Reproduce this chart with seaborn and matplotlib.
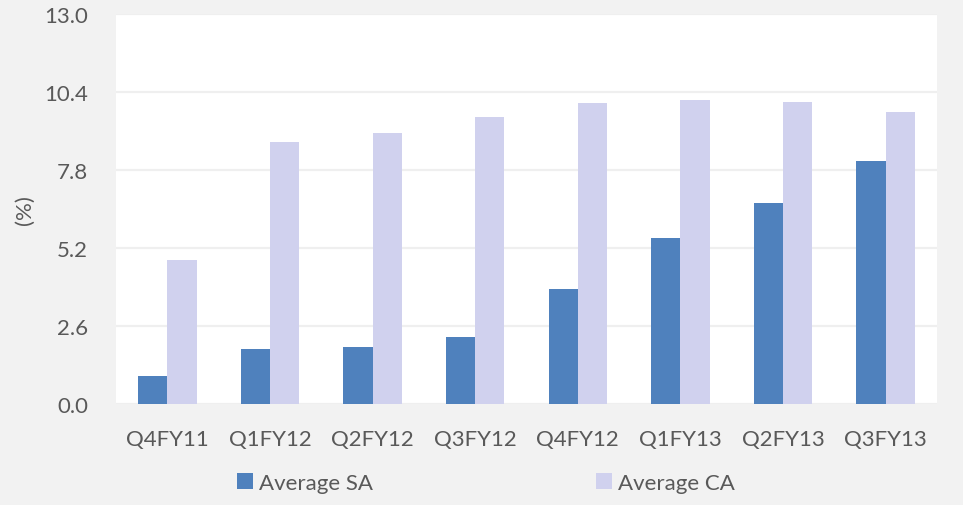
import matplotlib
matplotlib.use("Agg")
import matplotlib.pyplot as plt
import seaborn as sns
import pandas as pd

quarters = ["Q4FY11", "Q1FY12", "Q2FY12", "Q3FY12", "Q4FY12", "Q1FY13", "Q2FY13", "Q3FY13"]
avg_sa = [0.94, 1.83, 1.89, 2.22, 3.82, 5.54, 6.69, 8.09]
avg_ca = [4.81, 8.74, 9.03, 9.56, 10.02, 10.14, 10.08, 9.74]
y_ticks = [0.0, 2.6, 5.2, 7.8, 10.4, 13.0]
series_names = ["Average SA", "Average CA"]
colors = ["#4f81bd", "#d0d1ee"]

df = pd.DataFrame({
    "quarter": quarters * 2,
    "value": avg_sa + avg_ca,
    "series": [series_names[0]] * len(quarters) + [series_names[1]] * len(quarters),
})

sns.set_theme(style="white")
plt.rcParams["font.family"] = ["Lato", "DejaVu Sans"]
text_color = "#595959"
fs = 16

fig = plt.figure(figsize=(9.63, 5.06), dpi=100, facecolor="#f2f2f2")
ax = fig.add_axes([0.1205, 0.1996, 0.8525, 0.7708])
ax.set_facecolor("white")

sns.barplot(data=df, x="quarter", y="value", hue="series", order=quarters,
            hue_order=series_names, palette=colors, width=0.57, gap=0,
            linewidth=0, saturation=1, ax=ax, legend=True)

ax.set_ylim(0, 13.0)
ax.set_yticks(y_ticks)
ax.set_yticklabels([f"{t:.1f}" for t in y_ticks])
ax.set_xlim(-0.5, len(quarters) - 0.5)
ax.yaxis.grid(True, color="#efefef", linewidth=1.6)
ax.set_axisbelow(True)
for s in ["left", "right", "top", "bottom"]:
    ax.spines[s].set_visible(False)

ax.tick_params(axis="y", length=0, pad=20, labelsize=fs, labelcolor=text_color)
ax.tick_params(axis="x", length=0, pad=18, labelsize=fs, labelcolor=text_color)
ax.set_xlabel("")
ax.set_ylabel("(%)", fontsize=fs, color=text_color, labelpad=7)

handles, labels = ax.get_legend_handles_labels()
ax.legend_.remove()
fig.legend(handles, labels, loc="center", bbox_to_anchor=(0.5045, 0.044),
           ncol=2, frameon=False, fontsize=fs, labelcolor=text_color,
           handlelength=0.72, handleheight=0.72, handletextpad=0.3,
           columnspacing=10.0, borderaxespad=0)

fig.savefig("out.png", dpi=100, facecolor=fig.get_facecolor())
